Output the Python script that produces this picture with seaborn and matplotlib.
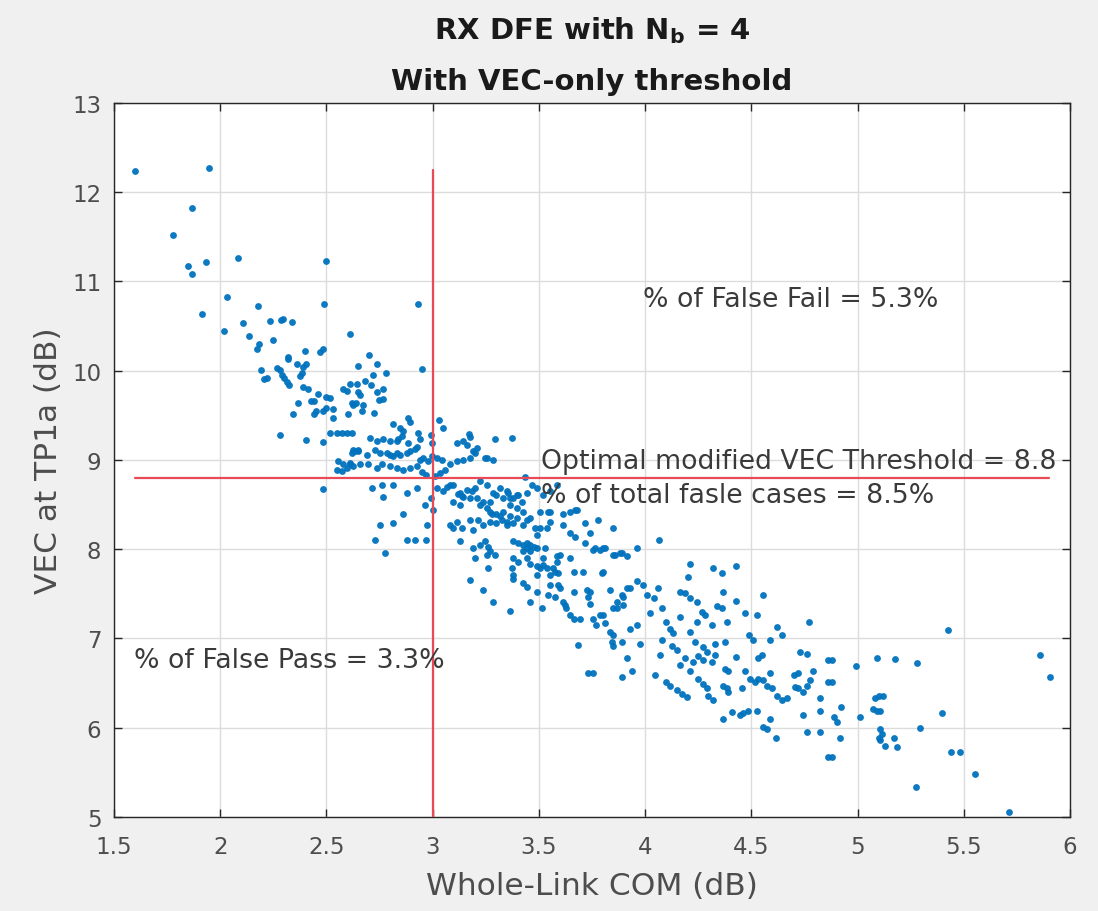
import matplotlib
matplotlib.use("Agg")
import matplotlib.pyplot as plt
import seaborn as sns
import pandas as pd

# ---------------- data (Whole-Link COM dB, VEC dB) ----------------
pts_top_left = [
    (1.60, 12.24), (1.946, 12.27), (1.867, 11.82), (1.78, 11.52), (1.85, 11.17), (1.867, 11.08),
    (1.933, 11.22), (2.084, 11.26), (2.50, 11.23), (2.033, 10.83), (1.914, 10.64), (2.178, 10.72),
    (2.487, 10.75), (2.02, 10.45), (2.107, 10.53), (2.233, 10.56), (2.285, 10.57), (2.297, 10.58),
    (2.338, 10.55), (2.134, 10.39), (2.25, 10.34), (2.183, 10.30), (2.173, 10.24), (2.40, 10.22),
    (2.47, 10.21), (2.485, 10.24), (2.32, 10.15), (2.61, 10.41), (2.93, 10.75), (2.95, 10.02),
]
pts_upper = [
    (2.319, 10.13), (2.36, 10.07), (2.404, 10.07), (2.19, 10.01), (2.266, 10.03), (2.28, 10.01),
    (2.206, 9.91), (2.219, 9.92), (2.29, 9.95), (2.30, 9.92), (2.39, 10.04), (2.385, 9.98),
    (2.376, 9.94), (2.313, 9.87), (2.325, 9.84), (2.39, 9.82), (2.415, 9.80), (2.462, 9.74),
    (2.50, 9.70), (2.517, 9.69), (2.368, 9.64), (2.426, 9.66), (2.44, 9.66), (2.341, 9.51),
    (2.44, 9.52), (2.45, 9.55), (2.485, 9.55), (2.50, 9.58), (2.53, 9.57), (2.53, 9.47),
    (2.60, 9.51), (2.627, 9.62), (2.64, 9.64), (2.58, 9.79), (2.595, 9.77), (2.61, 9.85),
    (2.65, 9.76), (2.65, 10.05), (2.28, 9.28), (2.404, 9.22), (2.485, 9.20), (2.517, 9.30),
    (2.549, 9.30), (2.572, 9.30), (2.596, 9.30), (2.62, 9.30), (2.62, 9.08), (2.635, 9.10),
    (2.65, 9.11), (2.556, 8.99), (2.58, 8.95), (2.595, 8.91), (2.61, 8.95), (2.548, 8.89),
    (2.572, 8.88), (2.485, 8.67), (2.70, 10.18), (2.74, 10.08), (2.78, 9.98), (2.72, 9.95),
]
pts_cross_left = [
    (2.643, 9.85), (2.68, 9.88), (2.71, 9.84), (2.74, 9.76), (2.768, 9.80), (2.749, 9.67),
    (2.765, 9.68), (2.66, 9.73), (2.673, 9.62), (2.666, 9.55), (2.724, 9.53), (2.62, 9.64),
    (2.815, 9.40), (2.846, 9.36), (2.862, 9.32), (2.886, 9.47), (2.894, 9.42), (2.854, 9.27),
    (2.838, 9.23), (2.933, 9.30), (2.94, 9.23), (2.99, 9.28), (2.996, 9.19), (2.705, 9.25),
    (2.737, 9.21), (2.768, 9.23), (2.80, 9.21), (2.83, 9.21), (2.886, 9.19), (2.925, 9.15),
    (2.627, 9.11), (2.65, 9.10), (2.69, 9.06), (2.728, 9.11), (2.752, 9.08), (2.784, 9.08),
    (2.80, 9.06), (2.815, 9.04), (2.83, 9.08), (2.846, 9.06), (2.878, 9.08), (2.894, 9.10),
    (2.917, 9.12), (2.94, 9.00), (2.956, 9.02), (2.98, 8.99), (2.996, 9.04), (2.611, 8.97),
    (2.627, 8.93), (2.658, 8.95), (2.697, 8.95), (2.737, 8.91), (2.76, 8.95), (2.80, 8.93),
    (2.83, 8.91), (2.862, 8.89), (2.894, 8.91), (2.925, 8.93), (2.949, 8.87), (2.97, 8.83),
]
pts_cross_right = [
    (3.03, 9.45), (3.05, 9.36), (3.02, 9.02), (3.043, 9.00), (3.01, 8.82), (3.035, 8.85),
    (3.058, 8.89), (3.08, 8.95), (3.113, 8.99), (3.145, 9.00), (3.176, 9.02), (3.20, 9.08),
    (3.16, 9.17), (3.145, 9.21), (3.176, 9.26), (3.207, 9.13), (3.247, 9.02), (3.286, 9.00),
    (3.294, 9.23), (3.372, 9.25), (3.113, 9.19), (3.17, 9.29), (3.19, 9.10), (3.254, 9.02),
    (3.435, 8.81),
]
pts_below_left = [
    (2.713, 8.69), (2.768, 8.59), (2.76, 8.72), (2.815, 8.72), (2.878, 8.63), (2.925, 8.69),
    (2.965, 8.50), (2.99, 8.57), (3.003, 8.44), (2.752, 8.27), (2.815, 8.29), (2.862, 8.39),
    (2.972, 8.27), (2.73, 8.10), (2.878, 8.10), (2.917, 8.10), (2.97, 8.10), (2.776, 7.96),
]
pts_core = [
    (3.02, 8.69), (3.066, 8.70), (3.097, 8.72), (3.129, 8.63), (3.145, 8.59), (3.16, 8.66),
    (3.176, 8.57), (3.20, 8.69), (3.223, 8.76), (3.254, 8.72), (3.286, 8.63), (3.317, 8.69),
    (3.348, 8.65), (3.364, 8.57), (3.396, 8.61), (3.419, 8.53), (3.443, 8.63), (3.466, 8.72),
    (3.49, 8.69), (3.52, 8.61), (3.553, 8.65), (3.584, 8.72), (3.097, 8.53), (3.129, 8.50),
    (3.239, 8.53), (3.27, 8.42), (3.30, 8.39), (3.333, 8.42), (3.364, 8.37), (3.396, 8.35),
    (3.427, 8.42), (3.459, 8.35), (3.506, 8.42), (3.553, 8.42), (3.615, 8.39), (3.647, 8.42),
    (3.082, 8.27), (3.113, 8.31), (3.176, 8.33), (3.239, 8.27), (3.30, 8.29), (3.348, 8.31),
    (3.427, 8.27), (3.506, 8.24), (3.553, 8.31), (3.615, 8.27), (3.12, 8.62), (3.14, 8.60),
    (3.05, 8.65), (3.082, 8.72), (3.184, 8.65), (3.207, 8.57), (3.27, 8.53), (3.30, 8.61),
    (3.333, 8.57), (3.356, 8.63), (3.38, 8.57), (3.404, 8.61), (3.364, 8.50), (3.396, 8.46),
    (3.223, 8.50), (3.254, 8.46), (3.278, 8.40), (3.317, 8.37), (3.325, 8.33), (3.348, 8.27),
    (3.38, 8.29), (3.443, 8.33), (3.482, 8.24), (3.49, 8.16), (3.537, 8.24), (3.097, 8.24),
    (3.137, 8.24), (3.19, 8.22), (3.215, 8.33), (3.27, 8.31), (3.545, 8.42), (3.67, 8.44),
    (3.647, 8.18), (3.67, 8.14), (3.717, 8.29), (3.78, 8.33), (3.85, 8.24), (3.74, 8.18),
]
pts_mid = [
    (3.129, 8.09), (3.19, 8.01), (3.223, 8.05), (3.247, 8.09), (3.262, 8.03), (3.27, 7.98),
    (3.254, 7.94), (3.20, 7.90), (3.294, 7.94), (3.38, 8.09), (3.404, 8.07), (3.427, 8.05),
    (3.443, 8.07), (3.459, 8.05), (3.475, 8.03), (3.443, 8.01), (3.459, 7.98), (3.427, 7.98),
    (3.49, 8.01), (3.53, 8.01), (3.38, 7.90), (3.404, 7.86), (3.443, 7.90), (3.459, 7.84),
    (3.49, 7.81), (3.52, 7.82), (3.537, 7.79), (3.576, 7.75), (3.553, 7.71), (3.584, 7.86),
    (3.262, 7.79), (3.372, 7.79), (3.38, 7.71), (3.176, 7.66), (3.239, 7.54), (3.286, 7.41),
    (3.364, 7.31), (3.427, 7.62), (3.443, 7.58), (3.459, 7.41), (3.49, 7.52), (3.513, 7.34),
    (3.545, 7.49), (3.576, 7.47), (3.592, 7.60), (3.615, 7.41), (3.63, 7.34), (3.647, 7.26),
    (3.663, 7.75), (3.663, 7.52), (3.71, 7.75), (3.663, 7.22), (3.694, 7.22), (3.725, 7.54),
    (3.733, 7.47), (3.74, 7.39), (3.757, 7.22), (3.77, 7.15), (3.80, 7.26), (3.795, 7.73),
    (3.835, 7.54), (3.85, 7.34), (3.866, 7.41), (3.89, 7.49), (3.913, 7.56), (3.85, 7.04),
    (3.843, 6.96), (3.717, 8.07), (3.765, 8.01), (3.788, 7.99), (3.812, 8.01), (3.858, 7.94),
    (3.89, 7.96), (3.584, 7.92), (3.60, 7.56), (3.647, 7.90), (3.68, 8.44), (3.38, 7.67),
    (3.49, 7.71), (3.506, 7.79), (3.52, 7.90), (3.568, 7.79), (3.592, 7.73), (3.60, 7.94),
    (3.553, 7.60), (3.623, 7.37), (3.686, 6.93), (3.733, 6.61),
]
pts_right_mid = [
    (4.067, 8.10), (3.757, 7.99), (3.804, 8.01), (3.85, 7.94), (3.88, 7.96), (3.913, 7.92),
    (3.96, 8.01), (3.80, 7.74), (4.21, 7.84), (4.204, 7.69), (4.32, 7.79), (4.36, 7.73),
    (4.428, 7.81), (3.74, 7.52), (3.898, 7.47), (3.93, 7.56), (3.96, 7.64), (3.99, 7.60),
    (4.007, 7.49), (4.04, 7.45), (4.063, 7.56), (4.163, 7.52), (4.19, 7.51), (4.21, 7.45),
    (4.243, 7.41), (4.266, 7.30), (4.282, 7.26), (4.337, 7.36), (4.36, 7.34), (4.368, 7.52),
    (4.428, 7.42), (4.47, 7.28), (4.526, 7.26), (4.553, 7.49), (4.77, 7.19), (4.62, 7.13),
    (4.643, 7.04), (3.788, 7.26), (3.812, 7.17), (3.835, 7.07), (3.866, 7.34), (3.898, 7.37),
    (3.93, 7.11), (3.96, 7.15), (4.023, 7.28), (4.078, 7.34), (4.10, 7.19), (4.118, 7.11),
    (4.133, 7.06), (4.165, 7.24), (4.21, 7.07), (4.243, 7.19), (4.313, 7.15), (4.384, 7.19),
    (4.49, 7.04),
]
pts_lower = [
    (3.757, 6.61), (3.85, 6.92), (3.89, 6.96), (3.976, 6.94), (3.913, 6.78), (3.89, 6.57),
    (3.937, 6.63), (4.07, 6.81), (4.047, 6.59), (4.078, 6.98), (4.125, 6.92), (4.149, 6.87),
    (4.165, 6.70), (4.188, 6.78), (4.21, 6.64), (4.227, 6.74), (4.25, 6.80), (4.274, 6.76),
    (4.29, 6.85), (4.313, 6.74), (4.33, 6.81), (4.235, 6.96), (4.274, 6.91), (4.33, 6.94),
    (4.376, 6.96), (4.10, 6.51), (4.118, 6.47), (4.149, 6.42), (4.172, 6.38), (4.196, 6.34),
    (4.25, 6.55), (4.274, 6.49), (4.29, 6.44), (4.298, 6.36), (4.32, 6.31), (4.376, 6.66),
    (4.392, 6.63), (4.368, 6.47), (4.384, 6.44), (4.392, 6.40), (4.43, 6.79), (4.47, 6.64),
    (4.455, 6.44), (4.51, 6.98), (4.59, 6.98), (4.533, 6.78), (4.55, 6.81), (4.494, 6.55),
    (4.518, 6.51), (4.533, 6.55), (4.557, 6.53), (4.572, 6.47), (4.596, 6.44), (4.588, 6.61),
    (4.62, 6.36), (4.643, 6.31), (4.667, 6.33), (4.368, 6.10), (4.408, 6.18), (4.447, 6.14),
    (4.463, 6.16), (4.486, 6.19), (4.525, 6.19), (4.59, 6.10), (4.557, 6.01), (4.572, 5.99),
    (4.617, 5.88), (4.70, 6.59), (4.72, 6.61), (4.706, 6.46), (4.72, 6.44), (4.745, 6.40),
    (4.76, 6.47), (4.776, 6.53), (4.79, 6.63), (4.73, 6.85), (4.76, 6.83), (4.824, 6.33),
    (4.824, 6.19), (4.745, 6.14), (4.76, 5.95), (4.824, 5.95), (4.863, 5.67), (4.863, 6.51),
    (4.863, 6.76),
]
pts_far_right = [
    (5.424, 7.09), (5.857, 6.82), (5.907, 6.57), (4.878, 6.76), (4.994, 6.69), (5.09, 6.78),
    (5.177, 6.77), (5.28, 6.73), (4.878, 6.51), (5.083, 6.33), (5.10, 6.35), (5.118, 6.36),
    (5.075, 6.21), (5.09, 6.19), (5.106, 6.19), (4.92, 6.23), (5.396, 6.17), (5.012, 6.12),
    (4.887, 6.12), (4.902, 6.06), (4.918, 5.88), (4.878, 5.67), (5.106, 5.99), (5.114, 5.93),
    (5.103, 5.88), (5.106, 5.86), (5.17, 5.89), (5.13, 5.79), (5.185, 5.78), (5.294, 6.00),
    (5.44, 5.73), (5.48, 5.73), (5.276, 5.34), (5.555, 5.48), (5.715, 5.06),
]

com_threshold = 3.0
vec_threshold = 8.8
x_ticks = [1.5, 2, 2.5, 3, 3.5, 4, 4.5, 5, 5.5, 6]
x_tick_labels = ["1.5", "2", "2.5", "3", "3.5", "4", "4.5", "5", "5.5", "6"]
y_ticks = [5, 6, 7, 8, 9, 10, 11, 12, 13]

title_text = "RX DFE with N$_\\mathbf{b}$ = 4\nWith VEC-only threshold"
x_label = "Whole-Link COM (dB)"
y_label = "VEC at TP1a (dB)"
txt_fail = "% of False Fail = 5.3%"
txt_opt = "Optimal modified VEC Threshold = 8.8"
txt_total = "% of total fasle cases = 8.5%"
txt_pass = "% of False Pass = 3.3%"

all_pts = (pts_top_left + pts_upper + pts_cross_left + pts_cross_right + pts_below_left
           + pts_core + pts_mid + pts_right_mid + pts_lower + pts_far_right)
df = pd.DataFrame(all_pts, columns=["com", "vec"])

# ---------------- styling ----------------
sns.set_style("white")
plt.rcParams["font.family"] = ["DejaVu Sans"]
plt.rcParams["mathtext.fontset"] = "dejavusans"

fig = plt.figure(figsize=(10.98, 9.12), dpi=100, facecolor="#f0f0f0")
ax = fig.add_axes([0.1038, 0.1031, 0.8707, 0.7829])
ax.set_facecolor("white")

sns.scatterplot(data=df, x="com", y="vec", ax=ax, color="#0072BD", s=24,
                linewidth=0, alpha=0.95, zorder=3)

red = "#ea4a55"
ax.plot([com_threshold, com_threshold], [5, 12.25], color=red, lw=1.6, zorder=4)
ax.plot([1.6, 5.9], [vec_threshold, vec_threshold], color=red, lw=1.6, zorder=4)

ax.set_xlim(1.5, 6)
ax.set_ylim(5, 13)
ax.set_xticks(x_ticks)
ax.set_xticklabels(x_tick_labels)
ax.set_yticks(y_ticks)
ax.grid(True, color="#dcdcdc", lw=1.0)
ax.set_axisbelow(True)
for s in ax.spines.values():
    s.set_color("#262626")
    s.set_linewidth(1.0)
ax.tick_params(direction="in", length=6, width=1, colors="#262626",
               labelcolor="#4d4d4d", labelsize=16.5, top=True, right=True,
               bottom=True, left=True)
ax.tick_params(axis="x", pad=13)
ax.tick_params(axis="y", pad=9)

ax.set_xlabel(x_label, fontsize=22.5, color="#4d4d4d", labelpad=9)
ax.set_ylabel(y_label, fontsize=22.5, color="#4d4d4d", labelpad=7)
ax.set_title(title_text, fontsize=21, fontweight="bold", color="#1a1a1a",
             linespacing=2.0, pad=10)

tcol = "#3a3a3a"
ax.text(3.99, 10.8, txt_fail, fontsize=19.3, color=tcol, va="center", ha="left", zorder=5)
ax.text(3.51, 8.99, txt_opt, fontsize=19.3, color=tcol, va="center", ha="left", zorder=5)
ax.text(3.51, 8.61, txt_total, fontsize=19.3, color=tcol, va="center", ha="left", zorder=5)
ax.text(1.595, 6.76, txt_pass, fontsize=19.3, color=tcol, va="center", ha="left", zorder=5)

fig.savefig("out.png", dpi=100, facecolor=fig.get_facecolor())
